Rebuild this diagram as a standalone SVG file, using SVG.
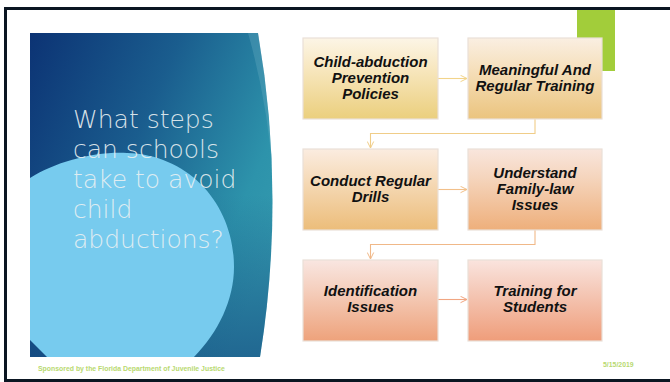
<svg xmlns="http://www.w3.org/2000/svg" width="670" height="382" viewBox="0 0 670 382">
  <defs>
    <linearGradient id="panelGrad" x1="0" y1="0" x2="1" y2="0.55">
      <stop offset="0" stop-color="#0c3374"/>
      <stop offset="0.45" stop-color="#1a5d8e"/>
      <stop offset="0.85" stop-color="#2d93ab"/>
      <stop offset="1" stop-color="#3399ae"/>
    </linearGradient>
    <linearGradient id="panelShade" x1="0" y1="0" x2="0" y2="1">
      <stop offset="0.5" stop-color="#0f3c78" stop-opacity="0"/>
      <stop offset="1" stop-color="#123f7a" stop-opacity="0.55"/>
    </linearGradient>
    <clipPath id="panelClip">
      <path d="M30,33 L258,33 Q286,195 260,357 L30,357 Z"/>
    </clipPath>
    <linearGradient id="g1" x1="0" y1="0" x2="0" y2="1">
      <stop offset="0" stop-color="#fcf5e6"/>
      <stop offset="0.35" stop-color="#f8e8c2"/>
      <stop offset="1" stop-color="#ebcf7d"/>
    </linearGradient>
    <linearGradient id="g2" x1="0" y1="0" x2="0" y2="1">
      <stop offset="0" stop-color="#faefe2"/>
      <stop offset="0.35" stop-color="#f6e1bf"/>
      <stop offset="1" stop-color="#ebc47e"/>
    </linearGradient>
    <linearGradient id="g3" x1="0" y1="0" x2="0" y2="1">
      <stop offset="0" stop-color="#fbece0"/>
      <stop offset="0.35" stop-color="#f6dcbc"/>
      <stop offset="1" stop-color="#ecbd7a"/>
    </linearGradient>
    <linearGradient id="g4" x1="0" y1="0" x2="0" y2="1">
      <stop offset="0" stop-color="#f9e6dd"/>
      <stop offset="0.35" stop-color="#f5d5bd"/>
      <stop offset="1" stop-color="#eeaf7b"/>
    </linearGradient>
    <linearGradient id="g5" x1="0" y1="0" x2="0" y2="1">
      <stop offset="0" stop-color="#f9e6e1"/>
      <stop offset="0.35" stop-color="#f5d0bf"/>
      <stop offset="1" stop-color="#eea27b"/>
    </linearGradient>
    <linearGradient id="g6" x1="0" y1="0" x2="0" y2="1">
      <stop offset="0" stop-color="#fae4de"/>
      <stop offset="0.35" stop-color="#f5cbbb"/>
      <stop offset="1" stop-color="#ef9d7a"/>
    </linearGradient>
    <marker id="arrow" viewBox="0 0 8 8" refX="7.5" refY="4" markerWidth="8" markerHeight="8" markerUnits="userSpaceOnUse" orient="auto">
      <path d="M1,0.8 L7.5,4 L1,7.2" fill="none" stroke="context-stroke" stroke-width="1"/>
    </marker>
    <style>
      .box { stroke: #eadfd8; stroke-width: 1.2; }
      .label { font-family: "Liberation Sans", Arial, sans-serif; font-size: 15px; font-weight: bold; font-style: italic; fill: #111111; text-anchor: middle; }
      .title { font-family: "DejaVu Sans", sans-serif; font-weight: 200; font-size: 25px; fill: #e9f0f2; fill-opacity: 0.92; }
      .conn { fill: none; stroke-width: 1.1; marker-end: url(#arrow); }
      .foot { font-family: "Liberation Sans", Arial, sans-serif; font-weight: bold; font-size: 6.9px; fill: #b8d970; }
    </style>
  </defs>

  <!-- slide background and frame -->
  <rect x="0" y="0" width="670" height="382" fill="#ffffff"/>
  <rect x="5.5" y="8.5" width="680" height="372" fill="#ffffff" stroke="#0b1622" stroke-width="3"/>

  <!-- accent square -->
  <rect x="577" y="10" width="38" height="61" fill="#a2cd3a"/>

  <!-- title panel -->
  <g id="title-panel">
    <g clip-path="url(#panelClip)">
      <rect x="30" y="33" width="260" height="324" fill="url(#panelGrad)"/>
      <rect x="30" y="33" width="260" height="324" fill="url(#panelShade)"/>
      <path d="M248,33 L262,33 Q280,110 274,195 Q270,110 248,33 Z" fill="#6fb3c8" fill-opacity="0.3"/>
      <path d="M20,185 C45,165 90,151 127,153 C190,155 234,205 234,267 C234,300 218,333 193,358 L48,358 L20,330 Z" fill="#77cbee"/>
    </g>
    <text class="title" x="73" y="128">What steps</text>
    <text class="title" x="73" y="158">can schools</text>
    <text class="title" x="73" y="188">take to avoid</text>
    <text class="title" x="73" y="218">child</text>
    <text class="title" x="73" y="248">abductions?</text>
  </g>

  <!-- connectors -->
  <g id="connectors">
    <path class="conn" stroke="#f2d48a" d="M438,78.5 L467,78.5"/>
    <path class="conn" stroke="#f0cd88" d="M535,119 L535,133.5 L370.5,133.5 L370.5,148"/>
    <path class="conn" stroke="#f2c08a" d="M438,189.5 L467,189.5"/>
    <path class="conn" stroke="#f0b888" d="M535,230 L535,244.5 L370.5,244.5 L370.5,259"/>
    <path class="conn" stroke="#f1a682" d="M438,299.5 L467,299.5"/>
  </g>

  <!-- step nodes -->
  <g id="step-policies">
    <rect class="box" x="303" y="38" width="135" height="81" fill="url(#g1)"/>
    <text class="label" x="370.5" y="67">Child-abduction</text>
    <text class="label" x="370.5" y="83">Prevention</text>
    <text class="label" x="370.5" y="99">Policies</text>
  </g>
  <g id="step-training">
    <rect class="box" x="468" y="38" width="134" height="81" fill="url(#g2)"/>
    <text class="label" x="535" y="75">Meaningful And</text>
    <text class="label" x="535" y="91">Regular Training</text>
  </g>
  <g id="step-drills">
    <rect class="box" x="303" y="149" width="135" height="81" fill="url(#g3)"/>
    <text class="label" x="370.5" y="185.5">Conduct Regular</text>
    <text class="label" x="370.5" y="201.5">Drills</text>
  </g>
  <g id="step-family-law">
    <rect class="box" x="468" y="149" width="134" height="81" fill="url(#g4)"/>
    <text class="label" x="535" y="177.5">Understand</text>
    <text class="label" x="535" y="193.5">Family-law</text>
    <text class="label" x="535" y="209.5">Issues</text>
  </g>
  <g id="step-identification">
    <rect class="box" x="303" y="260" width="135" height="81" fill="url(#g5)"/>
    <text class="label" x="370.5" y="296">Identification</text>
    <text class="label" x="370.5" y="312">Issues</text>
  </g>
  <g id="step-students">
    <rect class="box" x="468" y="260" width="134" height="81" fill="url(#g6)"/>
    <text class="label" x="535" y="296">Training for</text>
    <text class="label" x="535" y="312">Students</text>
  </g>

  <!-- footer -->
  <text class="foot" x="38" y="371">Sponsored by the Florida Department of Juvenile Justice</text>
  <text class="foot" x="603" y="367" font-size="7.6">5/15/2019</text>
</svg>
